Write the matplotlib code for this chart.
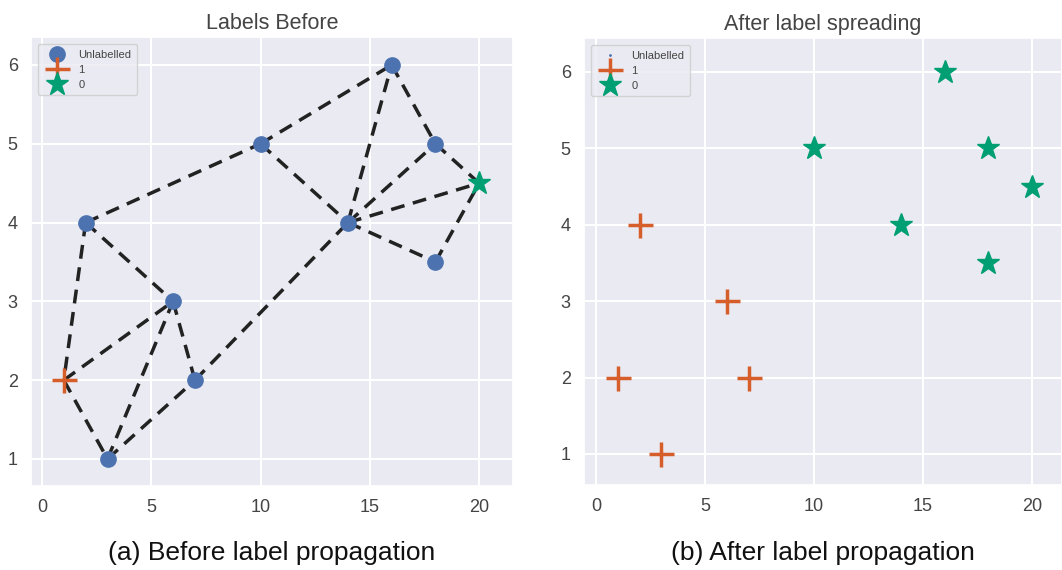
import matplotlib
matplotlib.use("Agg")
import matplotlib.pyplot as plt
import seaborn as sns

sns.set_theme(style="darkgrid")
plt.rcParams['font.family'] = ['Liberation Sans', 'DejaVu Sans']

# points
x_all = [1, 3, 2, 6, 7, 10, 14, 16, 18, 18, 20]
y_all = [2, 1, 4, 3, 2, 5, 4, 6, 5, 3.5, 4.5]
labels_before = [1, -1, -1, -1, -1, -1, -1, -1, -1, -1, 0]
labels_after = [1, 1, 1, 1, 1, 0, 0, 0, 0, 0, 0]

# graph edges (index pairs)
edges = [(2, 5), (5, 7), (2, 0), (2, 3), (0, 3), (0, 1), (1, 3), (3, 4),
         (1, 4), (4, 6), (5, 6), (6, 7), (7, 8), (8, 10), (6, 8), (6, 10),
         (6, 9), (9, 10)]

c_blue = '#4C72B0'
c_red = '#D55E2A'
c_green = '#009E73'
txt = '#444444'

W, H = 1062, 570
fig = plt.figure(figsize=(W / 100, H / 100), dpi=100)
ax1 = fig.add_axes([31 / W, (H - 486) / H, (513 - 31) / W, (486 - 37) / H])
ax2 = fig.add_axes([584 / W, (H - 485) / H, (W - 584) / W, (485 - 38) / H])


def draw_points(ax, labs, unl_size):
    ux = [x for x, l in zip(x_all, labs) if l == -1]
    uy = [y for y, l in zip(y_all, labs) if l == -1]
    ax.plot(ux, uy, 'o', color=c_blue, markersize=unl_size, label='Unlabelled', zorder=3)
    ax.plot([x for x, l in zip(x_all, labs) if l == 1],
            [y for y, l in zip(y_all, labs) if l == 1],
            '+', color=c_red, markersize=18, markeredgewidth=2.5, label='1', zorder=3)
    ax.plot([x for x, l in zip(x_all, labs) if l == 0],
            [y for y, l in zip(y_all, labs) if l == 0],
            '*', color=c_green, markersize=17, label='0', zorder=3)
    leg = ax.legend(loc='upper left', fontsize=8, labelspacing=0.45,
                    handlelength=2.3, handletextpad=0.8, borderpad=0.5,
                    frameon=True, borderaxespad=0.65)
    for t in leg.get_texts():
        t.set_color(txt)


# left: graph before
for i, j in edges:
    ax1.plot([x_all[i], x_all[j]], [y_all[i], y_all[j]], '--', color='#222222',
             linewidth=2.5, dashes=(4, 2.5), zorder=2)
draw_points(ax1, labels_before, 11)
ax1.set_xlim(-0.5, 21.55)
ax1.set_ylim(0.657, 6.355)
ax1.set_title('Labels Before', fontsize=15.5, color=txt, pad=6)

# right: after spreading
draw_points(ax2, labels_after, 1)
ax2.set_xlim(-0.55, 21.38)
ax2.set_ylim(0.594, 6.445)
ax2.set_title('After label spreading', fontsize=15.5, color=txt, pad=6)

for ax in (ax1, ax2):
    ax.set_xticks([0, 5, 10, 15, 20])
    ax.set_yticks([1, 2, 3, 4, 5, 6])
    ax.tick_params(labelsize=13, labelcolor=txt)
    ax.grid(color='white', linewidth=1.5)

fig.text(272 / W, 1 - 553 / H, '(a) Before label propagation', fontsize=19,
         ha='center', va='center', color='#111111')
fig.text(823 / W, 1 - 553 / H, '(b) After label propagation', fontsize=19,
         ha='center', va='center', color='#111111')

fig.savefig('out.png', dpi=100)
